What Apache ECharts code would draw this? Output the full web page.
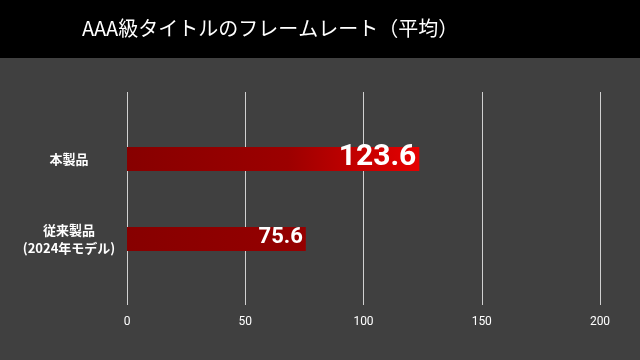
<!DOCTYPE html>
<html><head><meta charset="utf-8">
<script src="https://cdn.jsdelivr.net/npm/echarts@6/dist/echarts.min.js"></script>
<style>html,body{margin:0;padding:0;background:#404040}#c{width:640px;height:360px}</style>
</head><body><div id="c"></div>
<script>
const title = 'AAA級タイトルのフレームレート（平均）';
const categories = ['本製品', '従来製品\n(2024年モデル)'];
const values = [123.6, 75.6];
const xTicks = [0, 50, 100, 150, 200];

const chart = echarts.init(document.getElementById('c'));
const barColors = [
  new echarts.graphic.LinearGradient(0, 0, 1, 0, [
    {offset: 0, color: '#870000'}, {offset: 0.55, color: '#9c0000'}, {offset: 1, color: '#e60000'}]),
  new echarts.graphic.LinearGradient(0, 0, 1, 0, [
    {offset: 0, color: '#870000'}, {offset: 1, color: '#950000'}])
];
const labelSizes = [30, 22];
chart.setOption({
  backgroundColor: '#404040',
  animation: false,
  graphic: [{type: 'rect', left: 0, top: 0, shape: {width: 640, height: 58}, style: {fill: '#000'}, z: 0}],
  title: {text: title, left: 77, top: 13, textStyle: {color: '#fff', fontSize: 20, fontWeight: 'normal', fontFamily: 'Noto Sans CJK JP'}},
  grid: [
    {left: 127, right: 40, top: 92, bottom: 55},
    {left: 127, right: 40, top: 119, bottom: 81}
  ],
  xAxis: [
    {gridIndex: 0, type: 'value', min: xTicks[0], max: xTicks[xTicks.length - 1], interval: 50,
     axisLine: {show: false}, axisTick: {show: false},
     splitLine: {show: true, lineStyle: {color: '#d0d0d0', width: 1}},
     axisLabel: {color: '#fff', fontSize: 12, margin: 11, fontFamily: 'Roboto'}},
    {gridIndex: 1, type: 'value', min: xTicks[0], max: xTicks[xTicks.length - 1], show: false}
  ],
  yAxis: [
    {gridIndex: 0, type: 'value', show: false},
    {gridIndex: 1, type: 'category', data: categories, inverse: true,
     axisLine: {show: false}, axisTick: {show: false},
     axisLabel: {color: '#fff', fontSize: 13, fontWeight: 'bold', align: 'center', margin: 58, lineHeight: 18, fontFamily: 'Noto Sans CJK JP'}}
  ],
  series: [{
    type: 'bar', xAxisIndex: 1, yAxisIndex: 1, barWidth: 24,
    data: values.map((v, i) => ({
      value: v,
      itemStyle: {color: barColors[i]},
      label: {show: true, position: 'insideRight', distance: 3, offset: [0, -2], color: '#fff', fontWeight: 'bold', fontSize: labelSizes[i], fontFamily: 'Roboto'}
    }))
  }]
});
</script></body></html>
